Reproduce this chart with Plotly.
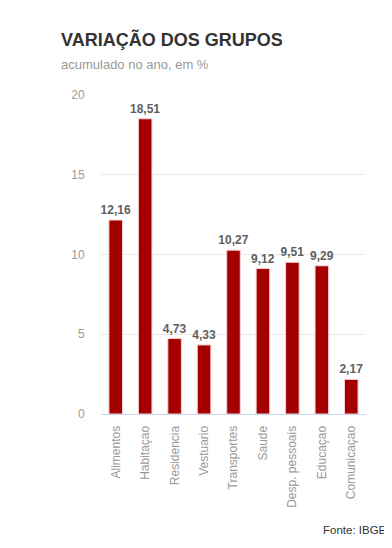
import plotly.graph_objects as go

categories = ["Alimentos", "Habitaçao", "Residencia", "Vestuario", "Transportes",
              "Saude", "Desp. pessoais", "Educaçao", "Comunicaçao"]
values = [12.16, 18.51, 4.73, 4.33, 10.27, 9.12, 9.51, 9.29, 2.17]
labels = [f"{v:.2f}".replace(".", ",") for v in values]
y_ticks = [0, 5, 10, 15, 20]

FONT = "Liberation Sans, Arial, sans-serif"
W, H = 392, 548
L, R, T, B = 93, 34, 87, 142
PW, PH = W - L - R, H - T - B


def px_x(x):
    return (x - L) / PW


def px_y(y):
    return (H - B - y) / PH


fig = go.Figure(go.Bar(
    x=categories, y=values, text=labels, textposition="outside",
    textfont=dict(family=FONT, size=12, color="#606060"),
    texttemplate="<b>%{text}</b>", constraintext="none",
    marker=dict(color="#a50000", line=dict(color="#f4d0d0", width=1)),
    width=0.46, cliponaxis=False, hoverinfo="skip",
))

fig.update_layout(
    width=W, height=H,
    margin=dict(l=L, r=R, t=T, b=B, autoexpand=False),
    paper_bgcolor="white", plot_bgcolor="white",
    showlegend=False,
    font=dict(family=FONT),
    xaxis=dict(tickangle=-90, tickfont=dict(family=FONT, size=12, color="#999999"),
               showline=True, linecolor="#ccd6eb", linewidth=1,
               ticks="outside", ticklen=6, tickcolor="rgba(0,0,0,0)",
               showgrid=False, fixedrange=True, automargin=False),
    yaxis=dict(range=[0, 20], tickvals=y_ticks, ticktext=[str(t) for t in y_ticks],
               tickfont=dict(family=FONT, size=12, color="#999999"),
               gridcolor="#e9e9e9", gridwidth=1, zeroline=False, showline=False,
               ticks="outside", ticklen=13, tickcolor="rgba(0,0,0,0)",
               automargin=False),
    annotations=[
        dict(text="<b>VARIAÇÃO DOS GRUPOS</b>", xref="paper", yref="paper",
             x=px_x(51), y=px_y(31.5), xanchor="left", yanchor="middle",
             showarrow=False, font=dict(family=FONT, size=18, color="#333333")),
        dict(text="acumulado no ano, em %", xref="paper", yref="paper",
             x=px_x(51), y=px_y(56.5), xanchor="left", yanchor="middle",
             showarrow=False, font=dict(family=FONT, size=13, color="#999999")),
        dict(text="Fonte: IBGE", xref="paper", yref="paper",
             x=px_x(381), y=px_y(522), xanchor="right", yanchor="middle",
             showarrow=False, font=dict(family=FONT, size=11.5, color="#333333")),
    ],
)

fig.write_html("out.html")
